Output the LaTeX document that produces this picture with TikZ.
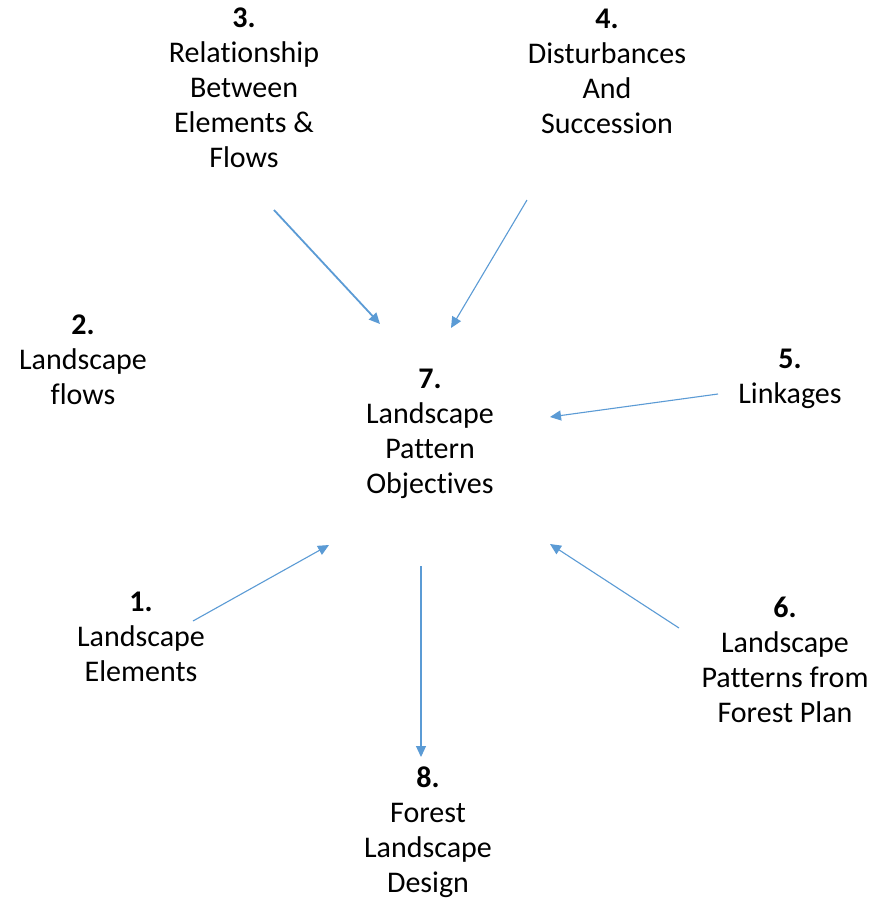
\documentclass[tikz,border=0pt]{standalone}
\usepackage{fontspec}
\setmainfont[Ligatures={NoCommon}]{Carlito}
\usetikzlibrary{arrows.meta}
\definecolor{arrowblue}{HTML}{5B9BD5}
\tikzset{
  lbl/.style={align=center, inner sep=0pt, font=\fontsize{30}{35}\selectfont},
  conn/.style={draw=arrowblue, line width=1.1pt, -{Triangle[length=11pt,width=10pt]}},
}
\begin{document}
\begin{tikzpicture}[x=1pt,y=-1pt]
\useasboundingbox[fill=white] (0,0) rectangle (884,900);
\node[lbl] (n3) at (244,88) {\textbf{3.}\\Relationship\\Between\\Elements \&\\Flows};
\node[lbl] (n4) at (607,71) {\textbf{4.}\\Disturbances\\And\\Succession};
\node[lbl] (n2) at (83,360) {\textbf{2.}\\Landscape\\flows};
\node[lbl] (n7) at (430,434) {\textbf{7.}\\Landscape\\Pattern\\Objectives};
\node[lbl] (n5) at (790,379) {\textbf{5.}\\Linkages};
\node[lbl] (n1) at (141,637) {\textbf{1.}\\Landscape\\Elements};
\node[lbl] (n6) at (785,660) {\textbf{6.}\\Landscape\\Patterns from\\Forest Plan};
\node[lbl] (n8) at (428,832) {\textbf{8.}\\Forest\\Landscape\\Design};
\coordinate (s3) at (274,210); \coordinate (e3) at (380,324);
\coordinate (s4) at (527,200); \coordinate (e4) at (451,328);
\coordinate (s5) at (718,394); \coordinate (e5) at (550,417);
\coordinate (s1) at (193,621); \coordinate (e1) at (329,545);
\coordinate (s6) at (679,628); \coordinate (e6) at (550,544);
\coordinate (s7) at (421,566); \coordinate (e7) at (421,757);
\draw[conn, line width=1.8pt] (s3) -- (e3);
\draw[conn] (s4) -- (e4);
\draw[conn] (s5) -- (e5);
\draw[conn] (s1) -- (e1);
\draw[conn] (s6) -- (e6);
\draw[conn] (s7) -- (e7);
\end{tikzpicture}
\end{document}
